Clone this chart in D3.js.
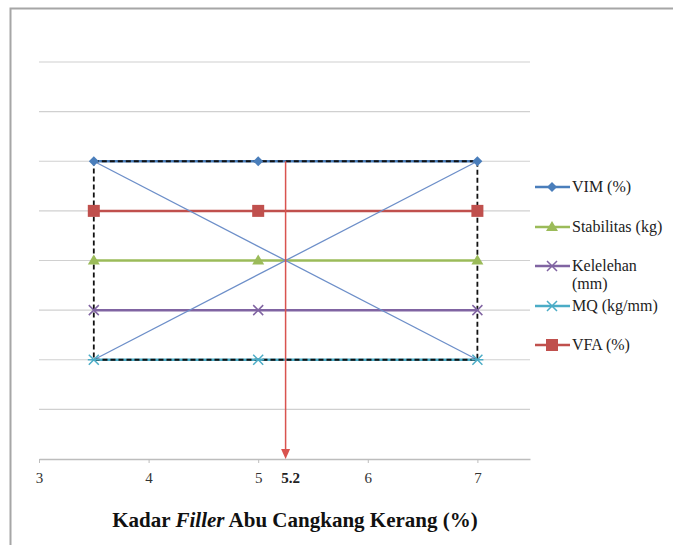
<!DOCTYPE html>
<html>
<head>
<meta charset="utf-8">
<script src="https://cdn.jsdelivr.net/npm/d3@7"></script>
<style>
body{margin:0;background:#fff;}
svg text{font-family:"Liberation Serif","Times New Roman","DejaVu Serif",serif;}
</style>
</head>
<body>
<script>
// data
var xPoints = [3.5, 5, 7];
var seriesNames = ["VIM (%)", "Stabilitas (kg)", "Kelelehan (mm)", "MQ (kg/mm)", "VFA (%)"];
var seriesValues = [
	[6, 6, 6],	//VIM
	[4, 4, 4],	//Stabilitas
	[3, 3, 3],	//Kelelehan
	[2, 2, 2],	//MQ
	[5, 5, 5]	//VFA
];
var seriesColors = ["#4a7ebb", "#9bbb59", "#8064a2", "#4bacc6", "#c0504d"];
var seriesMarkers = ["diamond", "triangle", "x", "star", "square"];
var xTicks = [3, 4, 5, 6, 7];
var yGrid = [1, 2, 3, 4, 5, 6, 7, 8];
var optimum = 5.25, optimumLabel = "5.2";

var w = 673, h = 545;
var margin = {top: 62, left: 39, right: 143, bottom: 86};
var serif = "'Liberation Serif','Times New Roman','DejaVu Serif',serif";

var svg = d3.select("body").append("svg").attr("width", w).attr("height", h);

//outer frame
svg.append("path").attr("d", "M10.5," + h + "V8.5H" + w)
	.attr("fill", "none").attr("stroke", "#a6a6a6").attr("stroke-width", 2);

var x = d3.scaleLinear().domain([3, 7.48]).range([margin.left, w - margin.right]);
var y = d3.scaleLinear().domain([0, 8]).range([h - margin.bottom, margin.top]);

//gridlines
svg.append("g").selectAll("line").data(yGrid).enter().append("line")
	.attr("x1", x(3)).attr("x2", x(7.48))
	.attr("y1", function(d){return y(d);}).attr("y2", function(d){return y(d);})
	.attr("stroke", "#d0d0d0").attr("stroke-width", 1.2);

//x axis
var axis = svg.append("g").attr("transform", "translate(0," + y(0) + ")")
	.call(d3.axisBottom(x).tickValues(xTicks).tickFormat(d3.format("d")).tickSize(4).tickSizeOuter(0).tickPadding(9));
axis.attr("font-family", serif).attr("font-size", 15);
axis.select(".domain").attr("stroke", "#bdbdbd").attr("stroke-width", 1.5);
axis.selectAll(".tick line").attr("stroke", "#bdbdbd");
axis.selectAll(".tick text").attr("fill", "#333");

//series lines
var line = d3.line().x(function(d, i){return x(xPoints[i]);}).y(function(d){return y(d);});
seriesValues.forEach(function(vals, s){
	svg.append("path").attr("d", line(vals)).attr("fill", "none")
		.attr("stroke", seriesColors[s]).attr("stroke-width", 2.5);
});

//diagonals
var vim = seriesValues[0], mq = seriesValues[3];
svg.append("line").attr("x1", x(xPoints[0])).attr("y1", y(vim[0])).attr("x2", x(xPoints[2])).attr("y2", y(mq[2]))
	.attr("stroke", "#6d8fc9").attr("stroke-width", 1.3);
svg.append("line").attr("x1", x(xPoints[0])).attr("y1", y(mq[0])).attr("x2", x(xPoints[2])).attr("y2", y(vim[2]))
	.attr("stroke", "#6d8fc9").attr("stroke-width", 1.3);

//dashed rectangle
svg.append("rect").attr("x", x(xPoints[0])).attr("y", y(vim[0]))
	.attr("width", x(xPoints[2]) - x(xPoints[0])).attr("height", y(mq[0]) - y(vim[0]))
	.attr("fill", "none").attr("stroke", "#111").attr("stroke-width", 1.8).attr("stroke-dasharray", "5,3");

//markers
function marker(g, type, color, cx, cy){
	if(type == "diamond"){
		g.append("path").attr("d", "M" + cx + "," + (cy - 5) + "l5,5l-5,5l-5,-5z").attr("fill", color);
	}else if(type == "triangle"){
		g.append("path").attr("d", "M" + cx + "," + (cy - 6) + "l6,10h-12z").attr("fill", color);
	}else if(type == "square"){
		g.append("rect").attr("x", cx - 6).attr("y", cy - 6).attr("width", 12).attr("height", 12).attr("fill", color);
	}else if(type == "x"){
		g.append("path").attr("d", "M" + (cx - 5) + "," + (cy - 5) + "l10,10M" + (cx + 5) + "," + (cy - 5) + "l-10,10")
			.attr("stroke", color).attr("stroke-width", 1.5);
	}else if(type == "star"){
		g.append("path").attr("d", "M" + (cx - 5) + "," + (cy - 5) + "l10,10M" + (cx + 5) + "," + (cy - 5) + "l-10,10M" + (cx - 6) + "," + cy + "h12")
			.attr("stroke", color).attr("stroke-width", 1.5);
	}
}
var mk = svg.append("g");
seriesValues.forEach(function(vals, s){
	vals.forEach(function(v, i){ marker(mk, seriesMarkers[s], seriesColors[s], x(xPoints[i]), y(v)); });
});

//optimum arrow
var red = "#d9534f";
svg.append("line").attr("x1", x(optimum)).attr("x2", x(optimum))
	.attr("y1", y(vim[0])).attr("y2", y(0) - 8).attr("stroke", red).attr("stroke-width", 1.5);
svg.append("path").attr("d", "M" + (x(optimum) - 4.5) + "," + (y(0) - 10) + "h9l-4.5,10z").attr("fill", red);
svg.append("text").attr("x", x(optimum) + 5).attr("y", y(0) + 24)
	.attr("font-family", serif)
	.attr("text-anchor", "middle").attr("font-size", 15).attr("font-weight", "bold").attr("fill", "#222")
	.text(optimumLabel);

//axis title
var title = svg.append("text").attr("x", 295).attr("y", 527).attr("text-anchor", "middle")
	.attr("font-family", serif)
	.attr("font-size", 21).attr("font-weight", "bold").attr("fill", "#111");
title.append("tspan").text("Kadar ");
title.append("tspan").attr("font-style", "italic").text("Filler");
title.append("tspan").text(" Abu Cangkang Kerang (%)");

//legend
var legOrder = [0, 1, 2, 3, 4];
var legY = [187, 227, 266, 306, 345];
legOrder.forEach(function(s, i){
	var g = svg.append("g");
	var ly = legY[i];
	g.append("line").attr("x1", 535).attr("x2", 570).attr("y1", ly).attr("y2", ly)
		.attr("stroke", seriesColors[s]).attr("stroke-width", 2.5);
	marker(g, seriesMarkers[s], seriesColors[s], 552, ly);
	var t = g.append("text").attr("x", 572).attr("y", ly + 5).attr("font-family", serif)
		.attr("font-size", 16).attr("fill", "#222");
	if(s == 2){
		t.append("tspan").text("Kelelehan");
		t.append("tspan").attr("x", 572).attr("dy", 18).text("(mm)");
	}else{
		t.text(seriesNames[s]);
	}
});
</script>
</body>
</html>
